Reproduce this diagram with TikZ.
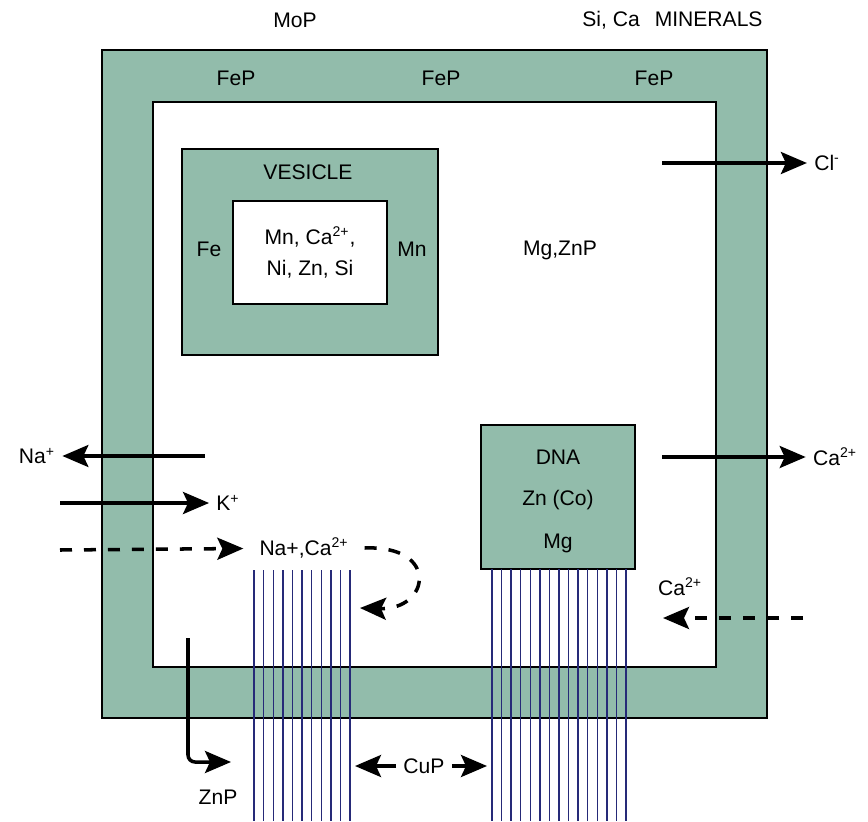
\documentclass[tikz,border=0pt]{standalone}
\usepackage{fontspec}
\setmainfont{Liberation Sans}
\usetikzlibrary{arrows.meta, positioning}
\definecolor{wallgreen}{RGB}{146,188,171}
\definecolor{fibreblue}{RGB}{38,42,120}

\begin{document}
\begin{tikzpicture}[
    x=0.02cm, y=-0.02cm,
    label/.style={
        inner sep=4pt,
        align=center,
        font=\fontsize{12}{18}\selectfont
    },
    wall/.style={draw, line width=1pt, fill=wallgreen},
    hole/.style={draw, line width=1pt, fill=white},
    arrow/.style={-{Stealth[length=0.52cm, width=0.44cm, inset=0.1cm]}, line width=2pt},
    darrow/.style={arrow, dash pattern=on 0.24cm off 0.24cm},
    fibre/.style={fibreblue, line width=0.8pt}
]
\useasboundingbox (0,0) rectangle (868,821);

% ---------- CELL WALL
\draw[wall] (102,50) rectangle (767,718);
\draw[hole] (153,102) rectangle (716,667);

% ---------- VESICLE
\node (vesicle) [wall, minimum width=5.12cm, minimum height=4.12cm] at (310,252) {};
\node (vescore) [hole, label, minimum width=3.08cm, minimum height=2.06cm] at (310,252.5)
    {Mn, Ca\textsuperscript{2+},\\Ni, Zn, Si};
\node (vestitle) [label] at (308,172) {VESICLE};
\node (vesfe) [label] at (209,249) {Fe};
\node (vesmn) [label] at (412,249) {Mn};

% ---------- DNA
\node (dna) [wall, minimum width=3.08cm, minimum height=2.88cm] at (558,497) {};
\node (dnatitle) [label] at (558,457) {DNA};
\node (dnazn) [label] at (558,500) {Zn (Co)};
\node (dnamg) [label] at (558,543) {Mg};

% ---------- FIBRES
\foreach \i in {0,...,10}
    \draw[fibre] (254+9.6*\i,570) -- ++(0,251);
\foreach \i in {0,...,14}
    \draw[fibre] (492+9.57*\i,569) -- ++(0,252);

% ---------- LABELS
\node (mop) [label] at (295,20) {MoP};
\node (minerals) [label, anchor=west, inner sep=0pt] at (582,20) {Si, Ca\hspace{0.3cm}MINERALS};
\node (fep1) [label] at (236,78) {FeP};
\node (fep2) [label] at (441,78) {FeP};
\node (fep3) [label] at (654,78) {FeP};
\node (mgznp) [label] at (560,250) {Mg,ZnP};

\node (cl) [label] at (827,163) {Cl\textsuperscript{-}};
\node (caout) [label] at (835,457) {Ca\textsuperscript{2+}};
\node (cain) [label] at (680,587) {Ca\textsuperscript{2+}};
\node (na) [label] at (37,456) {Na\textsuperscript{+}};
\node (k) [label] at (228,503) {K\textsuperscript{+}};
\node (naca) [label, inner xsep=9pt] at (304,548) {Na+,Ca\textsuperscript{2+}};
\node (znp) [label] at (218,797) {ZnP};
\node (cup) [label] at (424,766) {CuP};

% ---------- FREE ENDS
\coordinate (clstart) at (662,163);
\coordinate (caoutstart) at (662,457);
\coordinate (cainstart) at (803,618);
\coordinate (cainend) at (663,618);
\coordinate (nastart) at (205,456);
\coordinate (kstart) at (60,503);
\coordinate (nacastart) at (60,550);
\coordinate (loopend) at (360,608);
\coordinate (znpstart) at (188,638);
\coordinate (znpend) at (231,762);
\coordinate (cupleft) at (355,766);
\coordinate (cupright) at (487,766);

% ---------- FLUXES
\draw[arrow] (clstart) -- (cl);
\draw[arrow] (caoutstart) -- (caout);
\draw[darrow] (cainstart) -- (cainend);
\draw[arrow] (nastart) -- (na);
\draw[arrow] (kstart) -- (k);
\draw[darrow] (nacastart) -- (naca);
\draw[darrow] (naca.east) .. controls (440,545) and (430,610) .. (loopend);
\draw[arrow, rounded corners=4pt] (znpstart) |- (znpend);
\draw[arrow] (cup) -- (cupleft);
\draw[arrow] (cup) -- (cupright);

\end{tikzpicture}
\end{document}
